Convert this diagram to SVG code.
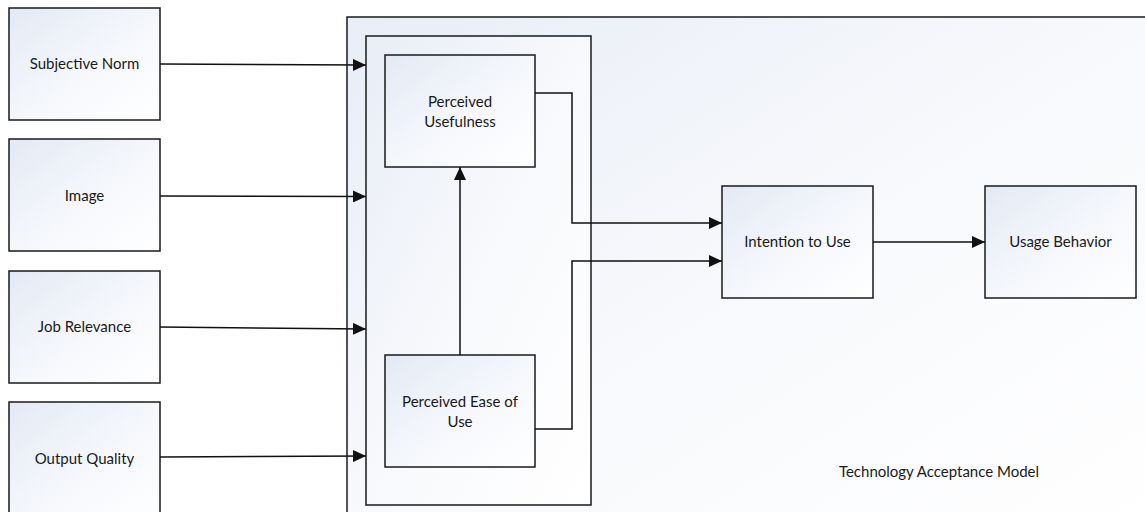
<svg xmlns="http://www.w3.org/2000/svg" width="1145" height="512" viewBox="0 0 1145 512">
<style>
.box{stroke:#1a1a1a;stroke-width:1.5;fill:url(#g)}
.frame{stroke:#1a1a1a;stroke-width:1.5;fill:url(#g2)}
.lbl{font-family:Lato,"Open Sans","Liberation Sans",sans-serif;font-size:15px;fill:#1a1a1a;text-anchor:middle}
.cn{fill:none;stroke:#111;stroke-width:1.5;marker-end:url(#ah)}
</style>
<defs>
<linearGradient id="g" x1="0" y1="0" x2="1" y2="1">
<stop offset="0" stop-color="#e3e9f4"/>
<stop offset="0.55" stop-color="#f6f8fc"/>
<stop offset="1" stop-color="#ffffff"/>
</linearGradient>
<linearGradient id="g2" x1="0" y1="0" x2="1" y2="1">
<stop offset="0" stop-color="#e8edf6"/>
<stop offset="0.5" stop-color="#f8f9fc"/>
<stop offset="1" stop-color="#ffffff"/>
</linearGradient>
<marker id="ah" markerUnits="userSpaceOnUse" markerWidth="14" markerHeight="12" refX="13" refY="6" orient="auto">
<path d="M0,0 L13,6 L0,12 z" fill="#111"/>
</marker>
</defs>
<g id="tam-frame">
<rect class="frame" x="347" y="17" width="820" height="520"/>
<text class="lbl" x="939" y="477">Technology Acceptance Model</text>
</g>
<g id="inner-frame">
<rect class="frame" x="366" y="36" width="225" height="469"/>
</g>
<g id="subjective-norm">
<rect class="box" x="9" y="8" width="151" height="112"/>
<text class="lbl" x="84.5" y="69">Subjective Norm</text>
</g>
<g id="image">
<rect class="box" x="9" y="139" width="151" height="112"/>
<text class="lbl" x="84.5" y="201">Image</text>
</g>
<g id="job-relevance">
<rect class="box" x="9" y="271" width="151" height="112"/>
<text class="lbl" x="84.5" y="332">Job Relevance</text>
</g>
<g id="output-quality">
<rect class="box" x="9" y="402" width="151" height="120"/>
<text class="lbl" x="84.5" y="464">Output Quality</text>
</g>
<g id="perceived-usefulness">
<rect class="box" x="385" y="55" width="150" height="112"/>
<text class="lbl" x="460" y="107">Perceived</text>
<text class="lbl" x="460" y="127">Usefulness</text>
</g>
<g id="perceived-ease-of-use">
<rect class="box" x="385" y="355" width="150" height="112"/>
<text class="lbl" x="460" y="407">Perceived Ease of</text>
<text class="lbl" x="460" y="427">Use</text>
</g>
<g id="intention-to-use">
<rect class="box" x="722" y="186" width="151" height="112"/>
<text class="lbl" x="797.5" y="247">Intention to Use</text>
</g>
<g id="usage-behavior">
<rect class="box" x="985" y="186" width="151" height="112"/>
<text class="lbl" x="1060.5" y="247">Usage Behavior</text>
</g>
<g id="connectors">
<path class="cn" d="M160,64 L366,65"/>
<path class="cn" d="M160,196 L366,196.5"/>
<path class="cn" d="M160,327 L366,329"/>
<path class="cn" d="M160,457 L366,456"/>
<path class="cn" d="M460,355 L460,167"/>
<path class="cn" d="M535,93 L572,93 L572,223 L722,223"/>
<path class="cn" d="M535,429 L572,429 L572,261 L722,261"/>
<path class="cn" d="M873,242 L985,242"/>
</g>
</svg>
